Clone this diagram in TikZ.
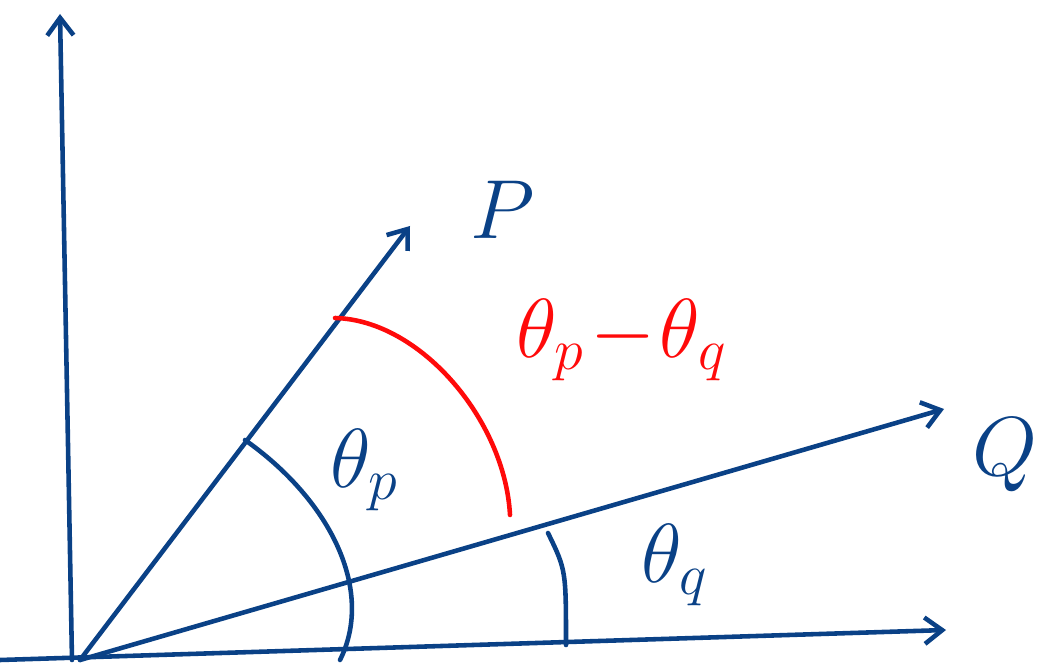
\documentclass[tikz,border=0pt]{standalone}
\usetikzlibrary{arrows.meta}
\definecolor{pen}{HTML}{0A4186}
\definecolor{redpen}{HTML}{FF0A0A}
\begin{document}
\begin{tikzpicture}[x=0.02cm,y=-0.02cm,
  stroke/.style={draw=pen,line width=2.6pt,line cap=round,line join=round},
  redstroke/.style={draw=redpen,line width=2.6pt,line cap=round},
  axis/.style={stroke,-{Straight Barb[length=10pt,width=15pt,line width=2.6pt]}},
  lbl/.style={text=pen,font=\huge,scale=2.3,transform shape},
  redlbl/.style={text=redpen,font=\huge,scale=2.3,transform shape}]
\useasboundingbox (0,0) rectangle (1049,669);
\coordinate (O) at (80,660);
\coordinate (Ytip) at (60,14);
\coordinate (Ybase) at (72,660);
\coordinate (Xstart) at (0,660);
\coordinate (Xtip) at (946,630);
\coordinate (Ptip) at (410,226);
\coordinate (Qtip) at (944,409);
\draw[axis] (Ybase) -- (Ytip);
\draw[axis] (Xstart) -- (Xtip);
\draw[axis] (O) -- (Ptip);
\draw[axis] (O) -- (Qtip);
% angle arcs
\coordinate (ap1) at (245,440);
\coordinate (ap2) at (340,660);
\draw[stroke] (ap1) .. controls (330,500) and (375,590) .. (ap2);
\coordinate (aq1) at (548,533);
\coordinate (aq2) at (566,645);
\draw[stroke] (aq1) .. controls (566,570) .. (aq2);
\coordinate (r1) at (335,318);
\coordinate (r2) at (510,515);
\draw[redstroke] (r1) .. controls (420,320) and (505,420) .. (r2);
% labels
\node[lbl] (P) at (503,210) {$P$};
\node[lbl] (Q) at (1005,455) {$Q$};
\node[lbl] (thp) at (365,470) {$\theta_p$};
\node[lbl] (thq) at (675,565) {$\theta_q$};
\node[redlbl] (thpq) at (622,340) {$\theta_p\!-\!\theta_q$};
\end{tikzpicture}
\end{document}
